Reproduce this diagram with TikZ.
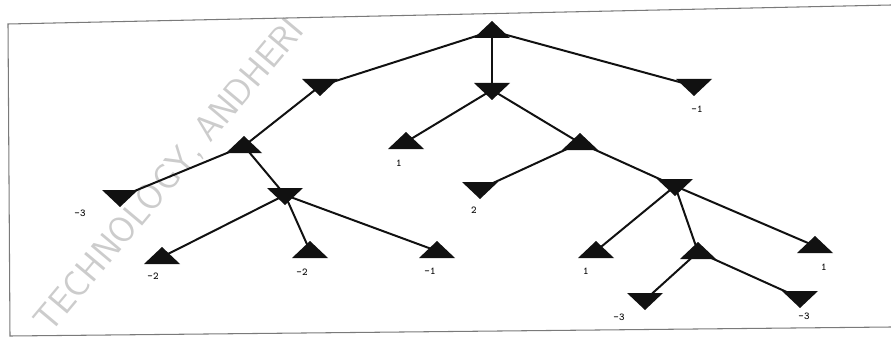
\documentclass[tikz,border=0pt]{standalone}
\usepackage{tikz}
\usetikzlibrary{positioning}
\definecolor{treeink}{HTML}{111111}
\definecolor{scanframe}{HTML}{7A7A7A}
\definecolor{markgray}{HTML}{CCCCCC}

\tikzset{
  maxtri/.pic={\fill[treeink] (0,-10) -- (18,7) -- (-18,7) -- cycle;},
  mintri/.pic={\fill[treeink] (0,10) -- (18,-7) -- (-18,-7) -- cycle;},
  leafval/.style={font=\ttfamily\bfseries\small, text=treeink, inner sep=1pt},
  branch/.style={draw=treeink, line width=1.7pt},
}

\begin{document}
\begin{tikzpicture}[x=0.03cm, y=-0.03cm]

\useasboundingbox (0,0) rectangle (891,339);

% Watermark of the scan
\begin{scope}
\clip (0,0) rectangle (891,339);
\node[text=markgray, font=\sffamily\fontsize{31}{31}\selectfont, rotate=50] (mark) at (170,176) {TECHNOLOGY, ANDHERI};
\end{scope}

% Frame
\draw[scanframe, line width=0.9pt] (891,5) -- (8,24) -- (10,336) -- (891,327);

% === Positions ===
\coordinate (root) at (492,31);
\coordinate (a) at (320,86);
\coordinate (b) at (492,90);
\coordinate (c) at (694,86);
\coordinate (d) at (244,146);
\coordinate (e) at (406,142);
\coordinate (f) at (580,143);
\coordinate (g) at (120,197);
\coordinate (h) at (285,195);
\coordinate (l) at (480,189);
\coordinate (m) at (675,186);
\coordinate (i) at (162,257);
\coordinate (j) at (310,251);
\coordinate (k) at (437,251);
\coordinate (n) at (596,251);
\coordinate (o) at (698,252);
\coordinate (p) at (815,246);
\coordinate (q) at (645,300);
\coordinate (r) at (800,298);

% === Branches ===
\draw[branch] (root) -- (a);
\draw[branch] (root) -- (b);
\draw[branch] (root) -- (c);
\draw[branch] (a) -- (d);
\draw[branch] (b) -- (e);
\draw[branch] (b) -- (f);
\draw[branch] (d) -- (g);
\draw[branch] (d) -- (h);
\draw[branch] (h) -- (i);
\draw[branch] (h) -- (j);
\draw[branch] (h) -- (k);
\draw[branch] (f) -- (l);
\draw[branch] (f) -- (m);
\draw[branch] (m) -- (n);
\draw[branch] (m) -- (o);
\draw[branch] (m) -- (p);
\draw[branch] (o) -- (q);
\draw[branch] (o) -- (r);

% === Players ===
\foreach \v in {root,d,e,f,i,j,k,n,o,p}
  \pic at (\v) {maxtri};
\foreach \v in {a,b,c,g,h,l,m,q,r}
  \pic at (\v) {mintri};

% === Leaf values ===
\node[leafval] (vc) at (697,109) {-1};
\node[leafval] (ve) at (399,163) {1};
\node[leafval] (vg) at (80,213) {-3};
\node[leafval] (vl) at (474,210) {2};
\node[leafval] (vi) at (153,276) {-2};
\node[leafval] (vj) at (302,272) {-2};
\node[leafval] (vk) at (430,271) {-1};
\node[leafval] (vn) at (586,271) {1};
\node[leafval] (vp) at (824,267) {1};
\node[leafval] (vq) at (619,317) {-3};
\node[leafval] (vr) at (804,316) {-3};

\end{tikzpicture}
\end{document}
